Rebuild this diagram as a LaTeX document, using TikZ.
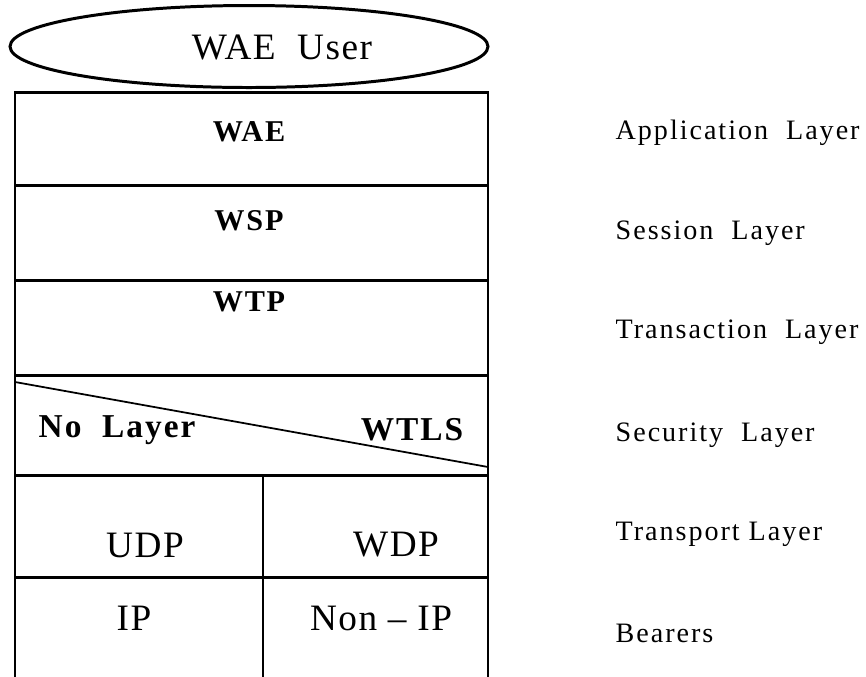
\documentclass[tikz,border=0pt]{standalone}
\usepackage{fontspec}
\setmainfont{Liberation Serif}
\newfontfamily\sidefont[LetterSpace=7]{Liberation Serif}
\newfontfamily\bigfont[LetterSpace=4]{Liberation Serif}
\newfontfamily\secfont[LetterSpace=6]{Liberation Serif}
\tikzset{
  frame/.style={black, line width=0.85pt},
  slash/.style={black, line width=0.5pt},
  layername/.style={inner sep=0pt, font=\secfont\fontsize{8.6}{9}\selectfont\bfseries},
  secname/.style={inner sep=0pt, font=\secfont\fontsize{9.5}{10}\selectfont\bfseries},
  protoname/.style={inner sep=0pt, font=\bigfont\fontsize{10.6}{11}\selectfont},
  sidelabel/.style={inner sep=0pt, anchor=west, font=\sidefont\fontsize{8}{9}\selectfont}
}
\begin{document}
\begin{tikzpicture}[scale=0.1]
\useasboundingbox (0,0) rectangle (86.6,-67.7);
% user on top
\draw [frame] (24.9,-4.65) ellipse (23.9 and 4.1);
\node [protoname] (user) at (28.2,-4.7) {WAE\ \ User};
% stack frame
\draw [frame] (1.5,-67.7) -- (1.5,-9.2) -- (48.8,-9.2) -- (48.8,-67.7);
\foreach \y in {-18.5,-28,-37.5,-47.5,-57.7}
  \draw [frame] (1.5,\y) -- (48.8,\y);
\draw [frame] (26.3,-47.5) -- (26.3,-67.7);
\draw [slash] (1.5,-38.2) -- (48.8,-46.7);
% layers
\node [layername] (wae) at (24.9,-13.2) {WAE};
\node [layername] (wsp) at (24.9,-22.1) {WSP};
\node [layername] (wtp) at (24.9,-30.2) {WTP};
\node [secname, anchor=west] (nolayer) at (3.8,-43) {No\ \ Layer};
\node [secname, anchor=east] (wtls) at (46.4,-43) {WTLS};
\node [protoname] (udp) at (14.5,-54.5) {UDP};
\node [protoname] (wdp) at (39.6,-54.5) {WDP};
\node [protoname] (ip) at (13.4,-61.8) {IP};
\node [protoname] (nonip) at (38.1,-61.8) {Non \textendash\ IP};
% osi names
\node [sidelabel] (app) at (61.5,-13.3) {Application\ \ Layer};
\node [sidelabel] (ses) at (61.5,-23.3) {Session\ \ Layer};
\node [sidelabel] (tra) at (61.5,-33.2) {Transaction\ \ Layer};
\node [sidelabel] (sec) at (61.5,-43.5) {Security\ \ Layer};
\node [sidelabel] (tsp) at (61.5,-53.4) {Transport Layer};
\node [sidelabel] (bea) at (61.5,-63.3) {Bearers};
\end{tikzpicture}
\end{document}
